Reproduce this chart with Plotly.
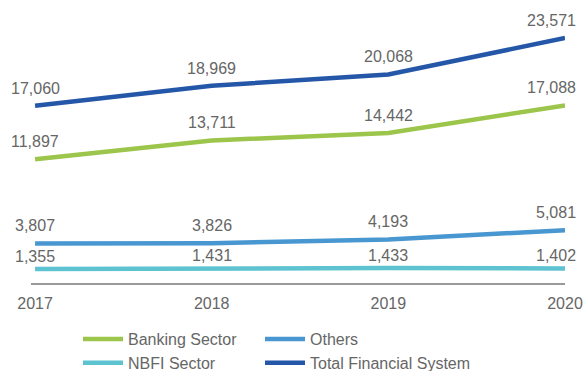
import plotly.graph_objects as go

years = [2017, 2018, 2019, 2020]
banking = [11897, 13711, 14442, 17088]
others = [3807, 3826, 4193, 5081]
nbfi = [1355, 1431, 1433, 1402]
total = [17060, 18969, 20068, 23571]

# name, values, colour, legend column, label lift (px)
series = [
    ("Banking Sector", banking, "#9cc54b", "legend", 7),
    ("Others", others, "#4897d1", "legend2", 7),
    ("NBFI Sector", nbfi, "#5ec3d1", "legend", 2),
    ("Total Financial System", total, "#2557a9", "legend2", 7),
]

label_color = "#666666"
font_family = "Liberation Sans, Arial, sans-serif"

fig = go.Figure()
for name, vals, color, leg, _ in series:
    fig.add_trace(go.Scatter(
        x=years, y=vals, name=name, mode="lines",
        line=dict(color=color, width=4.5),
        legend=leg, hoverinfo="skip",
    ))

# value labels above each point; the last column is pulled in to stay on canvas
annotations = []
for name, vals, color, leg, lift in series:
    for yr, v in zip(years, vals):
        last = yr == years[-1]
        annotations.append(dict(
            x=yr, y=v, xref="x", yref="y",
            text=f"{v:,}", showarrow=False,
            xanchor="right" if last else "center",
            yanchor="bottom",
            xshift=13 if last else 0, yshift=lift,
            font=dict(size=16, color=label_color, family=font_family),
        ))

legend_common = dict(
    orientation="v", xref="container", yref="container",
    xanchor="left", yanchor="top", itemwidth=40, tracegroupgap=0,
    font=dict(size=16, color=label_color), bgcolor="rgba(0,0,0,0)",
)

fig.update_layout(
    width=583, height=371,
    margin=dict(l=31, r=18, t=20, b=88, autoexpand=False),
    paper_bgcolor="white", plot_bgcolor="white",
    font=dict(family=font_family, size=16, color=label_color),
    xaxis=dict(
        range=[2016.977, 2020.0], tickvals=years, ticktext=[str(y) for y in years],
        showgrid=False, zeroline=False, showline=True, linecolor="#9a9a9a",
        linewidth=1.5, ticks="", ticklabelstandoff=5,
        tickfont=dict(size=16, color=label_color),
    ),
    yaxis=dict(range=[0, 25303], visible=False),
    showlegend=True,
    legend=dict(x=78 / 583, y=1 - 322 / 371, **legend_common),
    legend2=dict(x=260 / 583, y=1 - 322 / 371, **legend_common),
    annotations=annotations,
)

fig.write_html("out.html")
